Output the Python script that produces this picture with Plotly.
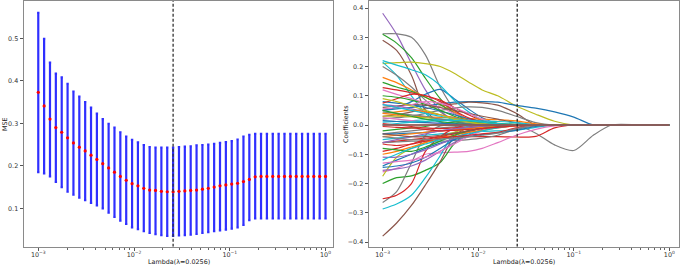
import plotly.graph_objects as go

# ---------------- Left panel: cross-validated MSE ----------------
cv_lambda = [0.001, 0.0011514, 0.0013257, 0.0015264, 0.0017575, 0.0020236, 0.00233, 0.0026827,
             0.0030888, 0.0035565, 0.0040949, 0.0047149, 0.0054287, 0.0062506, 0.0071969,
             0.0082864, 0.009541, 0.010985, 0.012649, 0.014563, 0.016768, 0.019307, 0.02223,
             0.025595, 0.029471, 0.033932, 0.039069, 0.044984, 0.051795, 0.059636, 0.068665,
             0.07906, 0.09103, 0.10481, 0.12068, 0.13895, 0.15999, 0.18421, 0.2121, 0.24421,
             0.28118, 0.32375, 0.37276, 0.42919, 0.49417, 0.56899, 0.65513, 0.75431, 0.86851, 1.0]
mse_mean = [0.373, 0.341, 0.310, 0.290, 0.279, 0.266, 0.254, 0.244, 0.235, 0.225,
            0.215, 0.205, 0.195, 0.185, 0.175, 0.166, 0.158, 0.153, 0.147, 0.143,
            0.142, 0.140, 0.139, 0.139, 0.140, 0.141, 0.142, 0.143, 0.145, 0.147,
            0.150, 0.153, 0.155, 0.157, 0.159, 0.163, 0.168, 0.174, 0.175, 0.175,
            0.175, 0.175, 0.175, 0.175, 0.175, 0.175, 0.175, 0.175, 0.175, 0.175]
mse_upper = [0.560, 0.499, 0.443, 0.417, 0.408, 0.393, 0.375, 0.363, 0.350, 0.337,
             0.323, 0.310, 0.299, 0.290, 0.279, 0.269, 0.261, 0.255, 0.249, 0.244,
             0.243, 0.243, 0.243, 0.243, 0.244, 0.245, 0.246, 0.248, 0.249, 0.250,
             0.252, 0.254, 0.256, 0.258, 0.262, 0.269, 0.273, 0.275, 0.275, 0.275,
             0.275, 0.275, 0.275, 0.275, 0.275, 0.275, 0.275, 0.275, 0.275, 0.275]
mse_lower = [0.185, 0.182, 0.175, 0.162, 0.150, 0.139, 0.132, 0.125, 0.119, 0.113,
             0.107, 0.100, 0.090, 0.080, 0.071, 0.063, 0.055, 0.051, 0.046, 0.042,
             0.039, 0.037, 0.035, 0.035, 0.036, 0.037, 0.038, 0.040, 0.042, 0.044,
             0.046, 0.048, 0.050, 0.052, 0.055, 0.061, 0.072, 0.076, 0.076, 0.076,
             0.076, 0.076, 0.076, 0.076, 0.076, 0.076, 0.076, 0.076, 0.076, 0.076]
best_lambda = 0.0256

# ---------------- Right panel: coefficient paths ----------------
coef_lambda = [0.001, 0.0014, 0.002, 0.0028, 0.004, 0.0056, 0.0079, 0.011, 0.016,
               0.025, 0.04, 0.063, 0.1, 0.16, 0.25, 0.5, 1.0]
coef_01 = [0.382, 0.31, 0.21, 0.12, 0.05, 0.015, 0.003, 0, 0, 0, 0, 0, 0, 0, 0, 0, 0]
coef_02 = [0.312, 0.312, 0.30, 0.24, 0.13, 0.055, 0.015, 0.002, 0, 0, 0, 0, 0, 0, 0, 0, 0]
coef_03 = [0.31, 0.28, 0.23, 0.16, 0.09, 0.04, 0.015, 0.003, 0, 0, 0, 0, 0, 0, 0, 0, 0]
coef_04 = [0.29, 0.255, 0.17, 0.05, 0.01, 0, 0, 0, 0, 0, 0, 0, 0, 0, 0, 0, 0]
coef_05 = [0.21, 0.213, 0.215, 0.21, 0.20, 0.177, 0.147, 0.12, 0.10, 0.065, 0.037, 0.013, 0, 0, 0, 0, 0]
coef_06 = [0.05, 0.055, 0.06, 0.066, 0.072, 0.078, 0.08, 0.08, 0.078, 0.067, 0.058, 0.045, 0.027, 0, 0, 0, 0]
coef_07 = [0.05, 0.06, 0.08, 0.105, 0.122, 0.09, 0.055, 0.025, 0.005, 0, 0, 0, 0, 0, 0, 0, 0]
coef_08 = [0.03, 0.035, 0.045, 0.055, 0.065, 0.072, 0.078, 0.076, 0.068, 0.04, 0, 0, 0, 0, 0, 0, 0]
coef_09 = [-0.03, -0.025, -0.02, -0.015, -0.01, -0.006, -0.003, 0, 0, 0, -0.028, -0.068, -0.087, -0.035, 0, 0, 0]
coef_10 = [-0.06, -0.055, -0.05, -0.045, -0.04, -0.04, -0.04, -0.04, -0.04, -0.041, -0.039, -0.01, 0, 0, 0, 0, 0]
coef_11 = [-0.05, -0.045, -0.04, -0.035, -0.03, -0.028, -0.025, -0.022, -0.02, -0.018, -0.008, 0, 0, 0, 0, 0, 0]
coef_12 = [-0.16, -0.148, -0.125, -0.10, -0.095, -0.093, -0.09, -0.08, -0.06, -0.035, -0.015, -0.003, 0, 0, 0, 0, 0]
coef_13 = [-0.2, -0.18, -0.174, -0.155, -0.128, -0.064, -0.025, -0.008, 0, 0, 0, 0, 0, 0, 0, 0, 0]
coef_14 = [-0.265, -0.228, -0.13, -0.035, -0.003, 0, 0, 0, 0, 0, 0, 0, 0, 0, 0, 0, 0]
coef_15 = [-0.252, -0.24, -0.2, -0.09, -0.04, -0.012, 0, 0, 0, 0, 0, 0, 0, 0, 0, 0, 0]
coef_16 = [-0.287, -0.27, -0.24, -0.18, -0.105, -0.028, -0.004, 0, 0, 0, 0, 0, 0, 0, 0, 0, 0]
coef_17 = [-0.38, -0.335, -0.275, -0.205, -0.125, -0.04, -0.008, 0, 0, 0, 0, 0, 0, 0, 0, 0, 0]
coef_18 = [-0.175, -0.11, -0.08, -0.06, -0.04, -0.025, -0.012, -0.005, 0, 0, 0, 0, 0, 0, 0, 0, 0]
coef_19 = [0.22, 0.205, 0.189, 0.172, 0.135, 0.085, 0.045, 0.015, 0, 0, 0, 0, 0, 0, 0, 0, 0]
coef_20 = [0.215, 0.17, 0.10, 0.04, 0.008, 0, 0, 0, 0, 0, 0, 0, 0, 0, 0, 0, 0]
coef_21 = [0.2, 0.17, 0.13, 0.085, 0.045, 0.015, 0.003, 0, 0, 0, 0, 0, 0, 0, 0, 0, 0]
coef_22 = [0.163, 0.145, 0.12, 0.095, 0.07, 0.045, 0.02, 0.006, 0, 0, 0, 0, 0, 0, 0, 0, 0]
coef_23 = [0.146, 0.13, 0.115, 0.095, 0.07, 0.04, 0.015, 0.004, 0, 0, 0, 0, 0, 0, 0, 0, 0]
coef_24 = [0.128, 0.12, 0.11, 0.10, 0.085, 0.06, 0.035, 0.015, 0.003, 0, 0, 0, 0, 0, 0, 0, 0]
coef_25 = [0.12, 0.105, 0.09, 0.075, 0.06, 0.04, 0.02, 0.005, 0, 0, 0, 0, 0, 0, 0, 0, 0]
coef_26 = [0.02, 0.025, 0.03, 0.04, 0.05, 0.058, 0.062, 0.06, 0.05, 0.03, 0.008, 0, 0, 0, 0, 0, 0]
coef_27 = [0.04, 0.035, 0.03, 0.028, 0.026, 0.024, 0.022, 0.02, 0.018, 0.014, 0.004, 0, 0, 0, 0, 0, 0]
coef_28 = [-0.06, -0.058, -0.055, -0.055, -0.055, -0.053, -0.05, -0.045, -0.035, -0.015, -0.003, 0, 0, 0, 0, 0, 0]
coef_29 = [-0.14, -0.12, -0.10, -0.08, -0.062, -0.05, -0.04, -0.032, -0.026, -0.018, -0.005, 0, 0, 0, 0, 0, 0]
coef_30 = [-0.145, -0.14, -0.13, -0.11, -0.08, -0.05, -0.025, -0.01, 0, 0, 0, 0, 0, 0, 0, 0, 0]
coef_31 = [-0.155, -0.15, -0.14, -0.12, -0.09, -0.06, -0.035, -0.015, -0.004, 0, 0, 0, 0, 0, 0, 0, 0]
coef_32 = [-0.11, -0.11, -0.10, -0.085, -0.065, -0.045, -0.025, -0.01, 0, 0, 0, 0, 0, 0, 0, 0, 0]
coef_33 = [-0.13, -0.125, -0.12, -0.11, -0.09, -0.065, -0.04, -0.02, -0.005, 0, 0, 0, 0, 0, 0, 0, 0]
coef_34 = [-0.09, -0.08, -0.065, -0.05, -0.04, -0.03, -0.02, -0.01, -0.003, 0, 0, 0, 0, 0, 0, 0, 0]
coef_35 = [-0.10, -0.09, -0.075, -0.06, -0.045, -0.035, -0.025, -0.018, -0.01, -0.003, 0, 0, 0, 0, 0, 0, 0]
coef_36 = [-0.08, -0.085, -0.09, -0.075, -0.055, -0.035, -0.02, -0.01, 0, 0, 0, 0, 0, 0, 0, 0, 0]
coef_37 = [-0.12, -0.10, -0.08, -0.065, -0.05, -0.04, -0.03, -0.02, -0.01, 0, 0, 0, 0, 0, 0, 0, 0]
coef_38 = [-0.065, -0.07, -0.065, -0.055, -0.045, -0.04, -0.035, -0.03, -0.025, -0.01, 0, 0, 0, 0, 0, 0, 0]
coef_39 = [0.08, 0.075, 0.07, 0.06, 0.048, 0.035, 0.022, 0.012, 0.004, 0, 0, 0, 0, 0, 0, 0, 0]
coef_40 = [0.075, 0.09, 0.105, 0.10, 0.08, 0.05, 0.025, 0.01, 0, 0, 0, 0, 0, 0, 0, 0, 0]
coef_41 = [0.10, 0.095, 0.085, 0.07, 0.05, 0.03, 0.015, 0.005, 0, 0, 0, 0, 0, 0, 0, 0, 0]
coef_42 = [0.06, 0.065, 0.07, 0.068, 0.06, 0.05, 0.04, 0.03, 0.02, 0.008, 0, 0, 0, 0, 0, 0, 0]
coef_43 = [0.055, 0.06, 0.07, 0.08, 0.075, 0.06, 0.04, 0.02, 0.005, 0, 0, 0, 0, 0, 0, 0, 0]
coef_44 = [0.07, 0.065, 0.055, 0.045, 0.035, 0.025, 0.015, 0.008, 0.002, 0, 0, 0, 0, 0, 0, 0, 0]
coef_45 = [0.04, 0.045, 0.05, 0.045, 0.035, 0.025, 0.015, 0.008, 0.003, 0, 0, 0, 0, 0, 0, 0, 0]
coef_46 = [0.03, 0.03, 0.028, 0.025, 0.02, 0.015, 0.01, 0.005, 0, 0, 0, 0, 0, 0, 0, 0, 0]
coef_47 = [0.01, 0.012, 0.015, 0.018, 0.02, 0.018, 0.015, 0.01, 0.005, 0, 0, 0, 0, 0, 0, 0, 0]
coef_48 = [0.045, 0.04, 0.035, 0.03, 0.02, 0.012, 0.006, 0.002, 0, 0, 0, 0, 0, 0, 0, 0, 0]
coef_49 = [-0.02, -0.015, -0.01, -0.005, 0.005, 0.01, 0.012, 0.01, 0.006, 0.002, 0, 0, 0, 0, 0, 0, 0]
coef_50 = [0.005, 0, -0.005, -0.01, -0.012, -0.01, -0.008, -0.005, -0.002, 0, 0, 0, 0, 0, 0, 0, 0]
coef_51 = [-0.03, -0.03, -0.028, -0.025, -0.02, -0.015, -0.01, -0.006, -0.002, 0, 0, 0, 0, 0, 0, 0, 0]
coef_52 = [-0.04, -0.035, -0.03, -0.025, -0.02, -0.016, -0.012, -0.008, -0.004, 0, 0, 0, 0, 0, 0, 0, 0]
coef_53 = [-0.06, -0.05, -0.04, -0.03, -0.02, -0.013, -0.008, -0.004, 0, 0, 0, 0, 0, 0, 0, 0, 0]
coef_54 = [-0.03, -0.035, -0.04, -0.04, -0.035, -0.028, -0.02, -0.012, -0.005, 0, 0, 0, 0, 0, 0, 0, 0]
coef_55 = [0.025, 0.02, 0.015, 0.01, 0.005, 0.002, 0, 0, 0, 0, 0, 0, 0, 0, 0, 0, 0]
coef_56 = [0.07, 0.06, 0.05, 0.04, 0.03, 0.022, 0.015, 0.01, 0.005, 0.002, 0, 0, 0, 0, 0, 0, 0]
coef_57 = [-0.04, -0.045, -0.05, -0.05, -0.048, -0.045, -0.04, -0.035, -0.028, -0.012, 0, 0, 0, 0, 0, 0, 0]
coef_58 = [0.09, 0.08, 0.065, 0.05, 0.035, 0.02, 0.01, 0.003, 0, 0, 0, 0, 0, 0, 0, 0, 0]
coef_59 = [0.05, 0.04, 0.03, 0.02, 0.012, 0.006, 0.002, 0, 0, 0, 0, 0, 0, 0, 0, 0, 0]
coef_60 = [0.015, 0.012, 0.01, 0.008, 0.006, 0.004, 0.002, 0.001, 0, 0, 0, 0, 0, 0, 0, 0, 0]
coef_61 = [-0.005, -0.008, -0.01, -0.015, -0.02, -0.018, -0.015, -0.012, -0.008, -0.003, 0, 0, 0, 0, 0, 0, 0]
coef_62 = [0, 0.005, 0.01, 0.012, 0.015, 0.015, 0.015, 0.014, 0.012, 0.008, 0, 0, 0, 0, 0, 0, 0]
coef_63 = [0, 0, 0, 0, 0, 0, 0, 0, 0, 0, 0, 0, 0, 0, 0, 0, 0]
coef_64 = [0, 0, 0, 0, 0, 0, 0, 0, 0, 0, 0, 0, 0, 0, 0, 0, 0]
coef_65 = [0, 0, 0, 0, 0, 0, 0, 0, 0, 0, 0, 0, 0, 0, 0, 0, 0]

BLUE, ORANGE, GREEN, RED, PURPLE = "#1f77b4", "#ff7f0e", "#2ca02c", "#d62728", "#9467bd"
BROWN, PINK, GRAY, OLIVE, CYAN = "#8c564b", "#e377c2", "#7f7f7f", "#bcbd22", "#17becf"

coef_paths = [
    (coef_01, PURPLE), (coef_02, GRAY), (coef_03, GREEN), (coef_04, BROWN), (coef_05, OLIVE),
    (coef_06, BLUE), (coef_07, BLUE), (coef_08, BROWN), (coef_09, GRAY), (coef_10, RED),
    (coef_11, CYAN), (coef_12, PINK), (coef_13, GREEN), (coef_14, GRAY), (coef_15, RED),
    (coef_16, CYAN), (coef_17, BROWN), (coef_18, OLIVE), (coef_19, CYAN), (coef_20, CYAN),
    (coef_21, GRAY), (coef_22, ORANGE), (coef_23, GREEN), (coef_24, RED), (coef_25, PINK),
    (coef_26, GRAY), (coef_27, ORANGE), (coef_28, GRAY), (coef_29, BLUE), (coef_30, BLUE),
    (coef_31, PURPLE), (coef_32, PURPLE), (coef_33, PINK), (coef_34, RED), (coef_35, ORANGE),
    (coef_36, GREEN), (coef_37, CYAN), (coef_38, RED), (coef_39, BLUE), (coef_40, RED),
    (coef_41, GREEN), (coef_42, BROWN), (coef_43, PINK), (coef_44, PURPLE), (coef_45, ORANGE),
    (coef_46, OLIVE), (coef_47, CYAN), (coef_48, GRAY), (coef_49, GREEN), (coef_50, RED),
    (coef_51, BLUE), (coef_52, ORANGE), (coef_53, PURPLE), (coef_54, BROWN), (coef_55, PINK),
    (coef_56, CYAN), (coef_57, GRAY), (coef_58, OLIVE), (coef_59, GREEN), (coef_60, BLUE),
    (coef_61, RED), (coef_62, CYAN), (coef_63, CYAN), (coef_64, RED), (coef_65, BROWN),
]

x_tickvals = [0.001, 0.01, 0.1, 1]
x_ticktext = ["10<sup>−3</sup>", "10<sup>−2</sup>", "10<sup>−1</sup>", "10<sup>0</sup>"]
x_minor = [m * d for d in (0.001, 0.01, 0.1) for m in range(2, 10)]

FONT = "DejaVu Sans"
FS = 6.4
TICKCOL = "#333333"
FRAME = "#8a8a8a"

fig = go.Figure()

# Left: MSE with error bars
fig.add_trace(go.Scatter(
    x=cv_lambda, y=mse_mean, mode="markers",
    marker=dict(color="red", size=3.2),
    error_y=dict(type="data", symmetric=False,
                 array=[u - m for u, m in zip(mse_upper, mse_mean)],
                 arrayminus=[m - l for m, l in zip(mse_mean, mse_lower)],
                 color="rgba(10,10,255,0.85)", thickness=2.2, width=1.2),
    xaxis="x", yaxis="y", showlegend=False, hoverinfo="skip"))

left_yr = [0.0096, 0.588]
fig.add_trace(go.Scatter(x=[best_lambda, best_lambda], y=left_yr, mode="lines",
                         line=dict(color="#333333", width=1.3, dash="3px,2px"),
                         xaxis="x", yaxis="y", showlegend=False, hoverinfo="skip"))

# Right: coefficient paths
for vals, col in coef_paths:
    assert len(vals) == len(coef_lambda)
    fig.add_trace(go.Scatter(x=coef_lambda, y=vals, mode="lines",
                             line=dict(color=col, width=1.2, shape="spline", smoothing=0.8),
                             xaxis="x2", yaxis="y2", showlegend=False, hoverinfo="skip"))

right_yr = [-0.416, 0.424]
fig.add_trace(go.Scatter(x=[best_lambda, best_lambda], y=right_yr, mode="lines",
                         line=dict(color="#222222", width=1.3, dash="3px,2px"),
                         xaxis="x2", yaxis="y2", showlegend=False, hoverinfo="skip"))

W, H = 685, 268
ydom = [(H - 246.7) / H, 1 - 1.0 / H]

common_x = dict(type="log", tickvals=x_tickvals, ticktext=x_ticktext,
                ticks="outside", ticklen=3.5, tickwidth=0.8, tickcolor="#555",
                ticklabelstandoff=-2,
                minor=dict(tickvals=x_minor, ticks="outside", ticklen=2, tickwidth=0.6, tickcolor="#666"),
                showgrid=False, zeroline=False, showline=True, mirror=True,
                linecolor=FRAME, linewidth=1, automargin=False,
                tickfont=dict(family=FONT, size=FS, color=TICKCOL))
common_y = dict(ticks="outside", ticklen=3.5, tickwidth=0.8, tickcolor="#555",
                showgrid=False, zeroline=False, showline=True, mirror=True,
                linecolor=FRAME, linewidth=1, automargin=False,
                tickfont=dict(family=FONT, size=FS, color=TICKCOL))

ann_font = dict(family=FONT, size=FS, color="#222")
fig.update_layout(
    width=W, height=H,
    margin=dict(l=0, r=0, t=0, b=0, pad=0),
    paper_bgcolor="white", plot_bgcolor="white",
    xaxis=dict(common_x, domain=[24 / W, 333 / W], range=[-3.149, 0.078], anchor="y"),
    yaxis=dict(common_y, domain=ydom, range=left_yr, tickvals=[0.1, 0.2, 0.3, 0.4, 0.5],
               tickformat=".1f", anchor="x"),
    xaxis2=dict(common_x, domain=[369 / W, 679 / W], range=[-3.143, 0.1015], anchor="y2"),
    yaxis2=dict(common_y, domain=ydom, range=right_yr,
                tickvals=[-0.4, -0.3, -0.2, -0.1, 0.0, 0.1, 0.2, 0.3, 0.4],
                tickformat=".1f", anchor="x2"),
    annotations=[
        dict(text="MSE", x=5 / W, y=(H - 124) / H, xref="paper", yref="paper", textangle=-90,
             xanchor="center", yanchor="middle", showarrow=False, font=ann_font),
        dict(text="Lambda(λ=0.0256)", x=179 / W, y=(H - 262) / H, xref="paper", yref="paper",
             xanchor="center", yanchor="middle", showarrow=False, font=ann_font),
        dict(text="Coefficients", x=346 / W, y=(H - 124) / H, xref="paper", yref="paper",
             textangle=-90, xanchor="center", yanchor="middle", showarrow=False, font=ann_font),
        dict(text="Lambda(λ=0.0256)", x=524 / W, y=(H - 262) / H, xref="paper", yref="paper",
             xanchor="center", yanchor="middle", showarrow=False, font=ann_font),
    ],
)

fig.write_html("out.html", config={"displayModeBar": False},
               post_script="document.body.style.margin='0px';document.body.style.padding='0px';")
